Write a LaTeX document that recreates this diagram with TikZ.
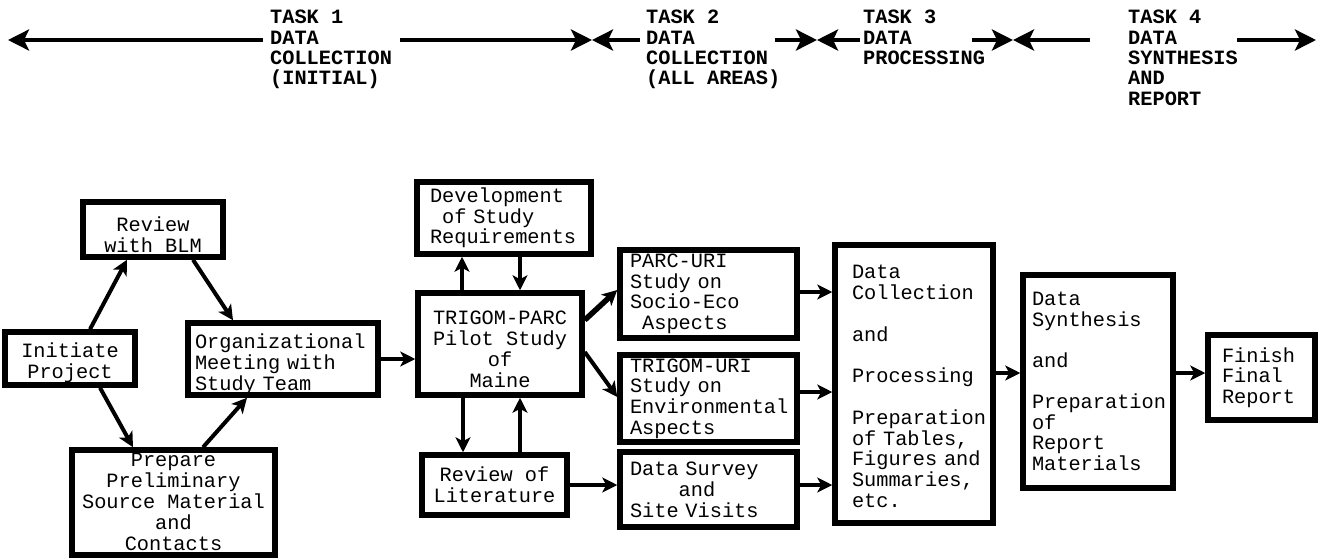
\documentclass[tikz,border=0pt]{standalone}
\usepackage{fontspec}
\newfontfamily\tw{Liberation Mono}
\usetikzlibrary{arrows.meta,calc}
\newcommand\lowr[3]{\raisebox{-#1}[\height][\depth]{\begin{tabular}{@{}#2@{}}#3\end{tabular}}}
\newcommand\boxfont{\tw\fontsize{20.3}{20.6}\selectfont\spaceskip=0.6em\relax}
\newcommand\taskfont{\tw\bfseries\fontsize{20.3}{20.4}\selectfont\spaceskip=0.6em\relax}
\begin{document}
\begin{tikzpicture}[x=1pt,y=-1pt,
  box/.style={draw, line width=5.5pt, inner sep=0pt, font=\boxfont},
  conn/.style={line width=4pt, -{Stealth[length=15pt,width=15pt,inset=4pt]}},
  tarrow/.style={line width=4.5pt, -{Stealth[length=21pt,width=21pt,inset=5pt]}},
  task/.style={font=\taskfont, align=left, anchor=north west, inner sep=0pt},
]
\useasboundingbox (0,0) rectangle (1318,558);

% task headers
\node[task] (t1) at (270,10) {TASK 1\\DATA\\COLLECTION\\(INITIAL)};
\node[task] (t2) at (646,10) {TASK 2\\DATA\\COLLECTION\\(ALL AREAS)};
\node[task] (t3) at (863,10) {TASK 3\\DATA\\PROCESSING};
\node[task] (t4) at (1128,10) {TASK 4\\DATA\\SYNTHESIS\\AND\\REPORT};

\coordinate (p0) at (8,40);
\coordinate (p1) at (263,40);
\coordinate (p2) at (400,40);
\coordinate (m1) at (592,40);
\coordinate (p3) at (640,40);
\coordinate (p4) at (775,40);
\coordinate (m2) at (817,40);
\coordinate (p5) at (860,40);
\coordinate (p6) at (972,40);
\coordinate (m3) at (1013,40);
\coordinate (p7) at (1090,40);
\coordinate (p8) at (1237,40);
\coordinate (p9) at (1316,40);
\draw[tarrow] (p1) -- (p0);
\draw[tarrow] (p2) -- (m1);
\draw[tarrow] (p3) -- (m1);
\draw[tarrow] (p4) -- (m2);
\draw[tarrow] (p5) -- (m2);
\draw[tarrow] (p6) -- (m3);
\draw[tarrow] (p7) -- (m3);
\draw[tarrow] (p8) -- (p9);

% boxes
\node[box, minimum width=130pt, minimum height=53pt] (init) at (70,358.5) {\lowr{5pt}{c}{Initiate\\Project}};
\node[box, minimum width=140pt, minimum height=55pt] (rev) at (153,229.5) {\lowr{8pt}{c}{Review\\with BLM}};
\node[box, align=left, text width=176pt, minimum width=190pt, minimum height=72pt] (org) at (283,359) {\lowr{6pt}{l}{Organizational\\Meeting with\\Study Team}};
\node[box, minimum width=203pt, minimum height=105pt] (prep) at (173.5,502.5) {\lowr{2pt}{c}{Prepare\\Preliminary\\Source Material\\and\\Contacts}};
\node[box, align=left, text width=148pt, minimum width=174pt, minimum height=72pt] (dev) at (504,218) {Development\\\phantom{x}of Study\\Requirements};
\node[box, minimum width=164pt, minimum height=102pt] (tp) at (500,344) {\lowr{8pt}{c}{TRIGOM-PARC\\Pilot Study\\of\\Maine}};
\node[box, align=center, minimum width=145pt, minimum height=60pt] (lit) at (494.5,485) {Review of\\Literature};
\node[box, align=left, text width=157pt, minimum width=177pt, minimum height=88pt] (parc) at (708.5,294) {PARC-URI\\Study on\\Socio-Eco\\\phantom{x}Aspects};
\node[box, align=left, text width=157pt, minimum width=177pt, minimum height=87pt] (turi) at (708.5,398.5) {TRIGOM-URI\\Study on\\Environmental\\Aspects};
\node[box, align=left, text width=157pt, minimum width=177pt, minimum height=75pt] (surv) at (708.5,489.5) {\lowr{3pt}{l}{Data Survey\\\phantom{xxxx}and\\Site Visits}};
\node[box, align=left, text width=124pt, minimum width=158pt, minimum height=278pt] (dc) at (914,384) {\lowr{5pt}{l}{Data\\Collection\\[20.6pt]and\\[20.6pt]Processing\\[20.6pt]Preparation\\of Tables,\\Figures and\\Summaries,\\etc.}};
\node[box, align=left, text width=132pt, minimum width=150pt, minimum height=213pt] (ds) at (1098,381.5) {Data\\Synthesis\\[20.6pt]and\\[20.6pt]Preparation\\of\\Report\\Materials};
\node[box, align=left, text width=79pt, minimum width=107pt, minimum height=85pt] (fin) at (1261.5,377.5) {Finish\\Final\\Report};

% connectors
\draw[conn] ([xshift=20pt]init.north) -- ([xshift=-26pt]rev.south);
\draw[conn] ([xshift=40pt]rev.south) -- ([xshift=-50pt]org.north);
\draw[conn] ([xshift=30pt]init.south) -- ([xshift=-40.5pt]prep.north);
\draw[conn] ([xshift=29.5pt]prep.north) -- ([xshift=-36pt]org.south);
\draw[conn] (org.east) -- (tp.west |- org.east);
\draw[conn] (tp.north -| 462,0) -- (dev.south -| 462,0);
\draw[conn] (dev.south -| 520,0) -- (tp.north -| 520,0);
\draw[conn] (tp.south -| 463,0) -- (lit.north -| 463,0);
\draw[conn] (lit.north -| 520,0) -- (tp.south -| 520,0);
\draw[conn, line width=5.5pt] (tp.east |- 0,320) -- (parc.west |- 0,290);
\draw[conn] (tp.east |- 0,352) -- (turi.west |- 0,397);
\draw[conn] (lit.east) -- (surv.west |- lit.east);
\draw[conn] (parc.east |- 0,292) -- (dc.west |- 0,292);
\draw[conn] (turi.east |- 0,392) -- (dc.west |- 0,392);
\draw[conn] (surv.east |- 0,485) -- (dc.west |- 0,485);
\draw[conn] (dc.east |- 0,373) -- (ds.west |- 0,373);
\draw[conn] (ds.east |- 0,373) -- (fin.west |- 0,373);
\end{tikzpicture}
\end{document}
